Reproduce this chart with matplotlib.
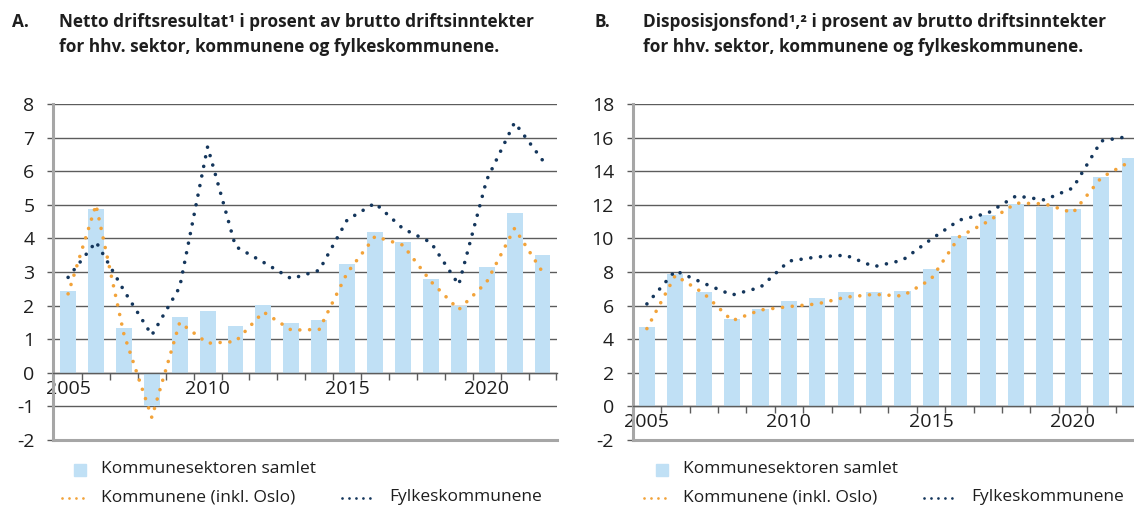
import matplotlib
matplotlib.use('Agg')
import matplotlib.pyplot as plt
from matplotlib.lines import Line2D
from matplotlib.patches import Rectangle

# Data
years = list(range(2005, 2023))

# A: netto driftsresultat
sektor_a = [2.43, 4.87, 1.34, -0.98, 1.66, 1.83, 1.39, 2.02, 1.48, 1.56, 3.25, 4.20, 3.88, 2.79, 1.99, 3.16, 4.76, 3.52]
kommunene_a = [2.35, 5.0, 1.15, -1.33, 1.5, 0.88, 0.93, 1.81, 1.27, 1.29, 2.97, 4.06, 3.8, 2.72, 1.88, 2.7, 4.3, 3.0]
fylkes_a = [2.84, 3.9, 2.45, 1.12, 2.55, 6.73, 3.76, 3.29, 2.8, 3.05, 4.55, 5.05, 4.29, 3.88, 2.62, 5.74, 7.45, 6.33]

# B: disposisjonsfond
sektor_b = [4.75, 7.86, 6.83, 5.23, 5.8, 6.28, 6.44, 6.81, 6.81, 6.89, 8.2, 10.14, 11.4, 12.05, 11.84, 11.77, 13.67, 14.76]
kommunene_b = [4.63, 7.8, 6.73, 5.1, 5.74, 5.94, 6.1, 6.5, 6.67, 6.57, 7.56, 10.1, 11.0, 12.1, 12.06, 11.52, 13.62, 14.56]
fylkes_b = [6.1, 8.08, 7.33, 6.63, 7.09, 8.65, 8.9, 9.0, 8.32, 8.7, 9.94, 11.09, 11.5, 12.53, 12.29, 13.0, 15.8, 16.08]

year_labels = [2005, 2010, 2015, 2020]

plt.rcParams['font.family'] = ['Open Sans', 'DejaVu Sans']

W, H = 1134, 507
bar_col = '#c0e0f5'
orange = '#f2a33a'
navy = '#14365c'
grid_col = '#5c5c5c'
light = '#a6a6a6'
txt = '#1e1e1e'


def fx(x):
    return x / W


def fy(y):
    return 1 - y / H


fig = plt.figure(figsize=(W / 100, H / 100), dpi=100)


def panel(rect, xlim, ylim, yticks, sektor, kommunene, fylkes):
    ax = fig.add_axes(rect)
    ax.set_xlim(*xlim)
    ax.set_ylim(*ylim)
    for y in yticks:
        if y != ylim[0]:
            ax.axhline(y, color=grid_col, lw=1.0, zorder=1)
    ax.axhline(ylim[0], color=light, lw=2.2, zorder=1, clip_on=False)
    ax.bar(years, sektor, width=0.57, color=bar_col, zorder=2)
    dots = (0, (0.01, 2.7))
    ax.plot(years, kommunene, color=orange, lw=2.6, ls=dots, dash_capstyle='round', zorder=3)
    ax.plot(years, fylkes, color=navy, lw=2.6, ls=dots, dash_capstyle='round', zorder=4)

    for s in ['top', 'right']:
        ax.spines[s].set_visible(False)
    ax.spines['left'].set_color(light)
    ax.spines['left'].set_linewidth(2.2)
    ax.spines['bottom'].set_position(('data', 0))
    ax.spines['bottom'].set_color(grid_col)
    ax.spines['bottom'].set_linewidth(1.0)

    ax.set_yticks(yticks)
    ax.set_yticklabels([str(v) for v in yticks])
    ax.tick_params(axis='y', length=4.5, width=1.0, color=grid_col, pad=9,
                   labelsize=14, labelcolor=txt)
    ax.set_xticks(year_labels)
    ax.set_xticks([y + 0.5 for y in years], minor=True)
    ax.tick_params(axis='x', which='major', length=0, pad=5, labelsize=14,
                   labelcolor=txt)
    ax.tick_params(axis='x', which='minor', length=5, width=1.0,
                   color=grid_col, direction='out')
    return ax


ax_a = panel([fx(53.3), fy(440), fx(503.4), 336 / H], (2004.47, 2022.51), (-2, 8),
             list(range(-2, 9)), sektor_a, kommunene_a, fylkes_a)
ax_b = panel([fx(632.7), fy(440), fx(511.2), 336 / H], (2004.5, 2022.5), (-2, 18),
             list(range(-2, 19, 2)), sektor_b, kommunene_b, fylkes_b)

# titles
tkw = dict(fontsize=12.4, fontweight='bold', color=txt, va='center')
fig.text(fx(12), fy(22), 'A.', **tkw)
fig.text(fx(59), fy(22), 'Netto driftsresultat\u00b9 i prosent av brutto driftsinntekter', **tkw)
fig.text(fx(59), fy(47), 'for hhv. sektor, kommunene og fylkeskommunene.', **tkw)
fig.text(fx(594), fy(22), 'B.', **tkw)
fig.text(fx(643), fy(22), 'Disposisjonsfond\u00b9,\u00b2 i prosent av brutto driftsinntekter', **tkw)
fig.text(fx(643), fy(47), 'for hhv. sektor, kommunene og fylkeskommunene.', **tkw)

# legends
lkw = dict(fontsize=12.5, color=txt, va='center')


def legend(x0):
    fig.add_artist(Rectangle((fx(x0 + 74), fy(476)), 12 / W, 12 / H,
                             transform=fig.transFigure, color=bar_col))
    fig.text(fx(x0 + 101), fy(469), 'Kommunesektoren samlet', **lkw)
    dots = (0, (0.01, 2.5))
    fig.add_artist(Line2D([fx(x0 + 62), fx(x0 + 86)], [fy(498), fy(498)],
                          transform=fig.transFigure, color=orange, lw=2.0,
                          ls=dots, dash_capstyle='round'))
    fig.text(fx(x0 + 101), fy(497), 'Kommunene (inkl. Oslo)', **lkw)
    fig.add_artist(Line2D([fx(x0 + 342), fx(x0 + 371)], [fy(498), fy(498)],
                          transform=fig.transFigure, color=navy, lw=2.0,
                          ls=dots, dash_capstyle='round'))
    fig.text(fx(x0 + 389), fy(497), 'Fylkeskommunene', **lkw)


legend(0)
legend(582)

fig.savefig('out.png', dpi=100)
